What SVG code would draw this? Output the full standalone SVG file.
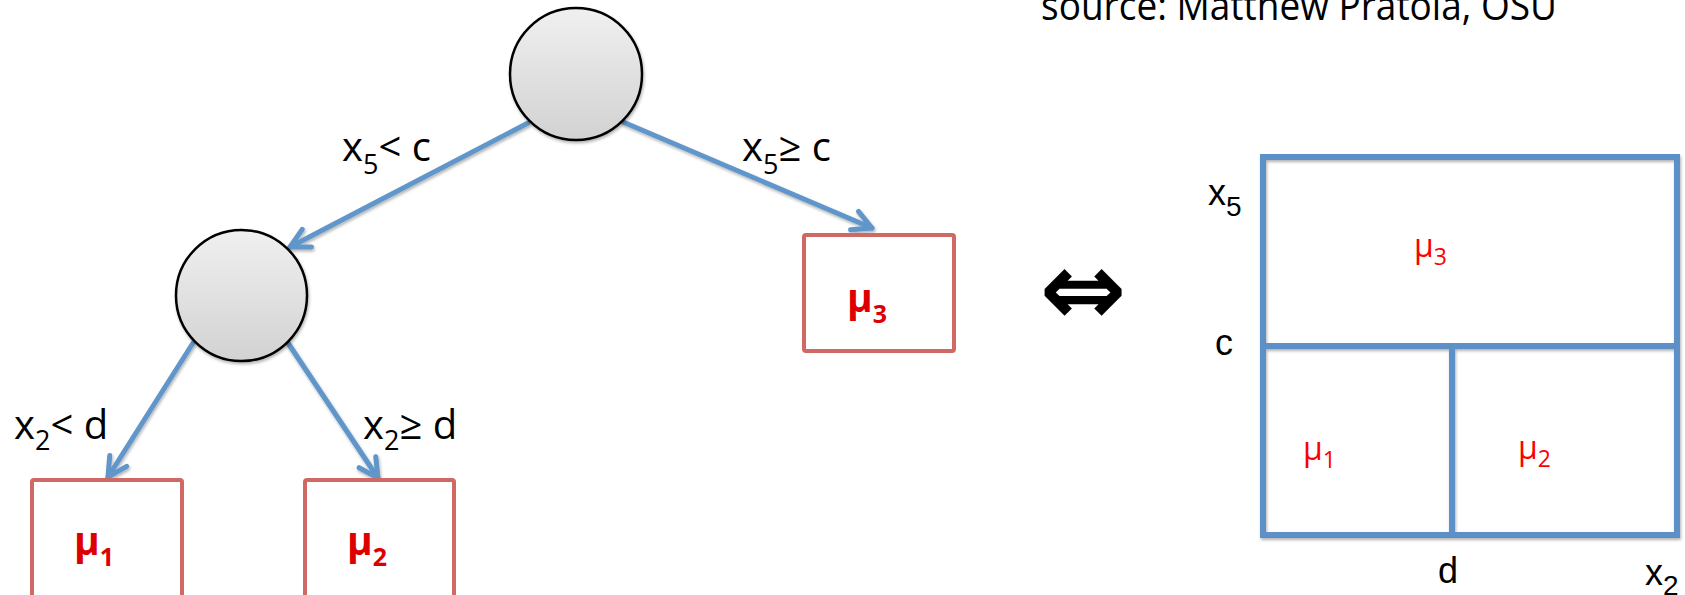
<svg xmlns="http://www.w3.org/2000/svg" width="1685" height="595" viewBox="0 0 1685 595">
<style>
.lbl{font-family:"Open Sans","Liberation Sans",sans-serif;font-size:40px;fill:#000}
.leaf{fill:#fff;stroke:#CF6963;stroke-width:4}
.mu{font-family:"Open Sans","Liberation Sans",sans-serif;font-weight:bold;font-size:39px;fill:#DD0000}
.edge{fill:none;stroke:#6096CA;stroke-width:5;stroke-linecap:round}
.split{fill:none;stroke:#5C90C6;stroke-width:6;stroke-linecap:square}
.ax{font-family:"Liberation Sans",Arial,sans-serif;font-size:36px;fill:#000}
.pmu{font-family:"Open Sans","Liberation Sans",sans-serif;font-size:32px;fill:#FF0000}
.node{stroke:#000;stroke-width:2.5;fill:url(#g)}
</style>
<defs>
<linearGradient id="g" x1="0" y1="0" x2="0" y2="1">
<stop offset="0" stop-color="#F0F0F0"/>
<stop offset="1" stop-color="#D2D2D2"/>
</linearGradient>
<filter id="sh" x="-10%" y="-10%" width="130%" height="130%">
<feDropShadow dx="1" dy="2" stdDeviation="1.5" flood-color="#000" flood-opacity="0.3"/>
</filter>
<marker id="ah" markerUnits="userSpaceOnUse" viewBox="-24 -14 30 28" markerWidth="30" markerHeight="28" refX="0" refY="0" orient="auto">
<path d="M-19,-10 L0,0 L-19,10" fill="none" stroke="#6096CA" stroke-width="5" stroke-linecap="round" stroke-linejoin="round"/>
</marker>
</defs>

<text class="lbl" x="1041" y="20" font-size="37" textLength="516" lengthAdjust="spacingAndGlyphs">source: Matthew Pratola, OSU</text>

<g id="connectors" filter="url(#sh)">
<line class="edge" x1="528" y1="123" x2="290" y2="247" marker-end="url(#ah)"/>
<line class="edge" x1="623" y1="122" x2="872" y2="228" marker-end="url(#ah)"/>
<line class="edge" x1="193" y1="343" x2="108" y2="477" marker-end="url(#ah)"/>
<line class="edge" x1="288" y1="343" x2="378" y2="478" marker-end="url(#ah)"/>
</g>

<g id="edge-labels">
<text class="lbl" x="342" y="161">x<tspan font-size="27" dy="13">5</tspan><tspan dy="-13">&lt; c</tspan></text>
<text class="lbl" x="742" y="161">x<tspan font-size="27" dy="13">5</tspan><tspan dy="-13">≥ c</tspan></text>
<text class="lbl" x="14" y="439">x<tspan font-size="27" dy="11">2</tspan><tspan dy="-11">&lt; d</tspan></text>
<text class="lbl" x="363" y="439">x<tspan font-size="27" dy="11">2</tspan><tspan dy="-11">≥ d</tspan></text>
</g>

<g id="root" filter="url(#sh)">
<circle class="node" cx="576" cy="74" r="66"/>
</g>
<g id="split-x2" filter="url(#sh)">
<circle class="node" cx="241.5" cy="295.5" r="65.5"/>
</g>

<g id="leaf-mu1">
<rect class="leaf" x="32" y="480" width="150" height="118" rx="2"/>
<text class="mu" x="74" y="555">μ<tspan font-size="25" dy="11">1</tspan></text>
</g>
<g id="leaf-mu2">
<rect class="leaf" x="305" y="480" width="149" height="118" rx="2"/>
<text class="mu" x="347" y="555">μ<tspan font-size="25" dy="11">2</tspan></text>
</g>
<g id="leaf-mu3">
<rect class="leaf" x="804" y="235" width="150" height="116" rx="2"/>
<text class="mu" x="847" y="312">μ<tspan font-size="25" dy="11">3</tspan></text>
</g>

<text x="1083" y="325" text-anchor="middle" font-family="DejaVu Sans,sans-serif" font-weight="bold" font-size="104" fill="#000">⇔</text>

<g id="partition">
<g filter="url(#sh)">
<rect class="split" x="1263" y="157" width="414" height="378"/>
<line class="split" x1="1263" y1="346" x2="1677" y2="346"/>
<line class="split" x1="1452" y1="346" x2="1452" y2="535"/>
</g>
<text class="ax" x="1208" y="205">x<tspan font-size="28" dy="11">5</tspan></text>
<text class="ax" x="1215" y="355">c</text>
<text class="ax" x="1438" y="583">d</text>
<text class="ax" x="1645" y="585">x<tspan font-size="28" dy="10">2</tspan></text>
<text class="pmu" x="1414" y="257">μ<tspan font-size="23" dy="8">3</tspan></text>
<text class="pmu" x="1303" y="460">μ<tspan font-size="23" dy="8">1</tspan></text>
<text class="pmu" x="1518" y="459">μ<tspan font-size="23" dy="8">2</tspan></text>
</g>
</svg>
